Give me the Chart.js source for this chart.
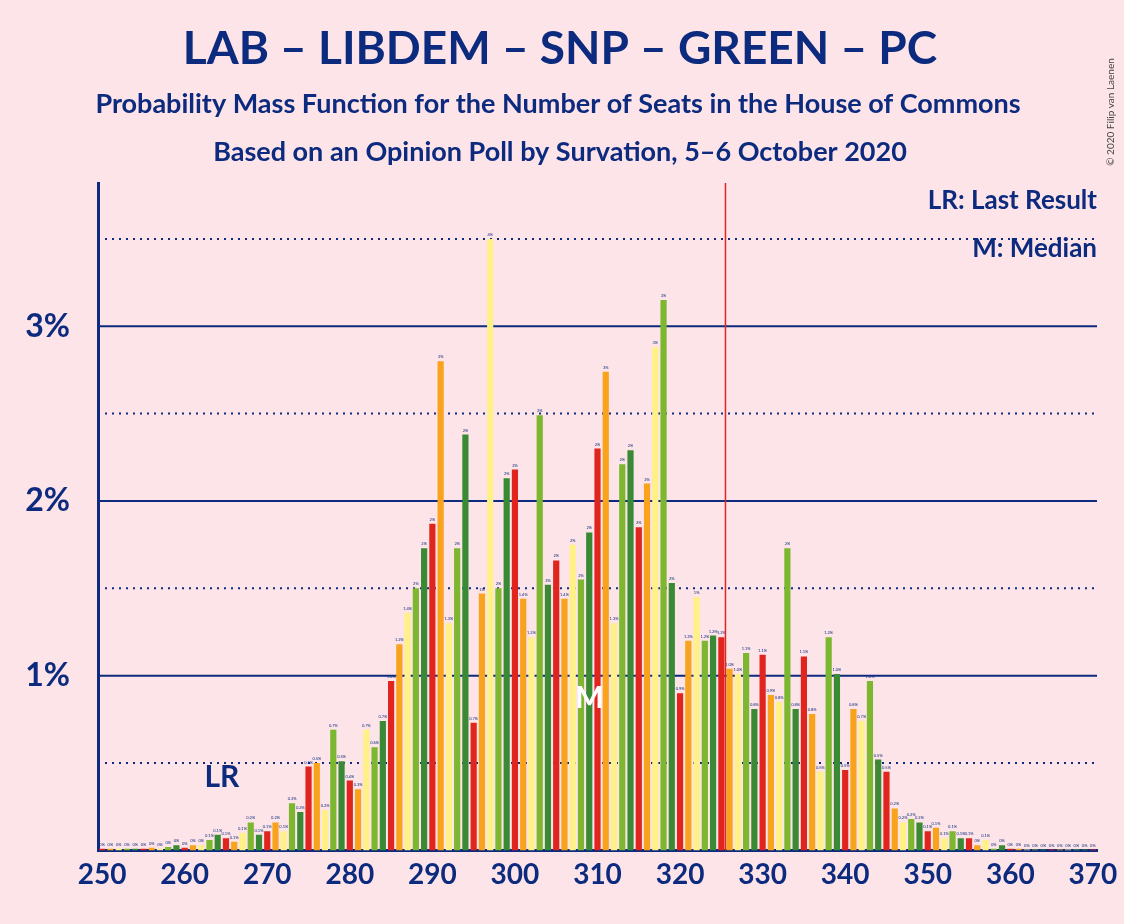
<!DOCTYPE html>
<html>
<head>
<meta charset="utf-8">
<script src="https://cdn.jsdelivr.net/npm/chart.js@4/dist/chart.umd.min.js"></script>
<style>
  html, body { margin: 0; padding: 0; background: #fde4e8; }
  #wrap { width: 1124px; height: 924px; position: relative; }
</style>
</head>
<body>
<div id="wrap"><canvas id="pmf" width="1124" height="924"></canvas></div>
<script>
const seats = [];
for (let s = 250; s <= 370; s++) seats.push(s);

// probability (%) per seat count, 250..370
const probs = [
  0.01, 0.01, 0.01, 0.01, 0.01, 0.01, 0.015, 0.01, 0.02, 0.03,
  0.015, 0.03, 0.03, 0.06, 0.09, 0.07, 0.05, 0.1, 0.16, 0.09,
  0.11, 0.16, 0.11, 0.27, 0.22, 0.48, 0.5, 0.23, 0.69, 0.51,
  0.4, 0.35, 0.69, 0.59, 0.74, 0.97, 1.18, 1.36, 1.5, 1.73,
  1.87, 2.8, 1.3, 1.73, 2.38, 0.73, 1.47, 3.5, 1.5, 2.13,
  2.18, 1.44, 1.22, 2.49, 1.52, 1.66, 1.44, 1.75, 1.55, 1.82,
  2.3, 2.74, 1.3, 2.21, 2.29, 1.85, 2.1, 2.88, 3.15, 1.53,
  0.9, 1.2, 1.45, 1.2, 1.23, 1.22, 1.04, 1.01, 1.13, 0.81,
  1.12, 0.89, 0.85, 1.73, 0.81, 1.11, 0.78, 0.45, 1.22, 1.01,
  0.46, 0.81, 0.74, 0.97, 0.52, 0.45, 0.24, 0.16, 0.18, 0.16,
  0.11, 0.13, 0.07, 0.11, 0.07, 0.07, 0.03, 0.06, 0.01, 0.03,
  0.01, 0.01, 0.005, 0.005, 0.005, 0.005, 0.005, 0.005, 0.005, 0.005,
  0.005
];

const palette = ["#e0251f", "#f9a21b", "#fff185", "#7db72f", "#3a8a35"];
const navy = "#0c2a7e";
const lastResult = 265;
const median = 310;
const majority = 325.5;

const textPlugin = {
  id: "texts",
  beforeDatasetsDraw(chart) {
    const { ctx, chartArea: a, scales: { y } } = chart;
    ctx.save();
    [0.5, 1, 1.5, 2, 2.5, 3, 3.5].forEach((v) => {
      const py = y.getPixelForValue(v);
      ctx.beginPath();
      ctx.strokeStyle = navy;
      ctx.lineWidth = 2;
      ctx.setLineDash(v % 1 === 0 ? [] : [2, 5]);
      ctx.moveTo(a.left, py); ctx.lineTo(a.right, py); ctx.stroke();
    });
    ctx.restore();
  },
  afterDatasetsDraw(chart) {
    const { ctx, chartArea: a, scales: { x, y } } = chart;
    ctx.save();
    // bar value labels
    ctx.font = "4px Lato";
    ctx.fillStyle = navy;
    ctx.textAlign = "center";
    probs.forEach((v, i) => {
      const t = v < 0.05 ? "0%" : v >= 1.45 ? Math.round(v) + "%" : v.toFixed(1) + "%";
      ctx.fillText(t, x.getPixelForValue(i), y.getPixelForValue(v) - 3);
    });
    // majority line
    const mx = x.getPixelForValue(majority - 250);
    ctx.strokeStyle = "#e0251f";
    ctx.lineWidth = 1.5;
    ctx.beginPath(); ctx.moveTo(mx, a.top); ctx.lineTo(mx, a.bottom); ctx.stroke();
    // LR and M
    ctx.font = "bold 30px Lato";
    ctx.fillStyle = navy;
    ctx.fillText("LR", x.getPixelForValue(lastResult - 250) - 4, y.getPixelForValue(0.45) + 15);
    ctx.fillStyle = "#ffffff";
    ctx.fillText("M", x.getPixelForValue(median - 250) - 8, y.getPixelForValue(0.9) + 15);
    // legend texts
    ctx.fillStyle = navy;
    ctx.textAlign = "right";
    ctx.font = "bold 26px Lato";
    ctx.fillText("LR: Last Result", a.right, 209);
    ctx.fillText("M: Median", a.right, 257);
    // titles
    ctx.textAlign = "center";
    ctx.font = "bold 46px Lato";
    ctx.fillText("LAB – LIBDEM – SNP – GREEN – PC", 560, 64);
    ctx.font = "bold 27px Lato";
    ctx.fillText("Probability Mass Function for the Number of Seats in the House of Commons", 558, 113);
    ctx.fillText("Based on an Opinion Poll by Survation, 5–6 October 2020", 560, 161);
    ctx.font = "10px Lato";
    ctx.translate(1114, 112);
    ctx.rotate(-Math.PI / 2);
    ctx.fillStyle = "#444";
    ctx.fillText("© 2020 Filip van Laenen", 0, 0);
    ctx.restore();
  }
};

new Chart(document.getElementById("pmf"), {
  type: "bar",
  data: {
    labels: seats,
    datasets: [{
      data: probs,
      backgroundColor: seats.map((s) => palette[s % 5]),
      barPercentage: 0.75,
      categoryPercentage: 1,
    }],
  },
  options: {
    responsive: false,
    animation: false,
    layout: { padding: { top: 183, right: 27, left: 20, bottom: 32 } },
    plugins: { legend: { display: false }, tooltip: { enabled: false } },
    scales: {
      x: {
        grid: { display: false },
        border: { color: navy, width: 3 },
        ticks: {
          autoSkip: false,
          maxRotation: 0,
          padding: 0,
          color: navy,
          font: { family: "Lato", size: 28, weight: "bold" },
          callback: (v, i) => (seats[i] % 10 === 0 ? String(seats[i]) : ""),
        },
      },
      y: {
        min: 0,
        max: 3.82,
        grid: { display: false },
        border: { color: navy, width: 3 },
        afterFit: (s) => { s.width = 78; },
        ticks: {
          stepSize: 0.5,
          color: navy,
          padding: 20,
          font: { family: "Lato", size: 32, weight: "bold" },
          callback: (v) => (v > 0 && v % 1 === 0 ? v + "%" : ""),
        },
      },
    },
  },
  plugins: [textPlugin],
});
</script>
</body>
</html>
